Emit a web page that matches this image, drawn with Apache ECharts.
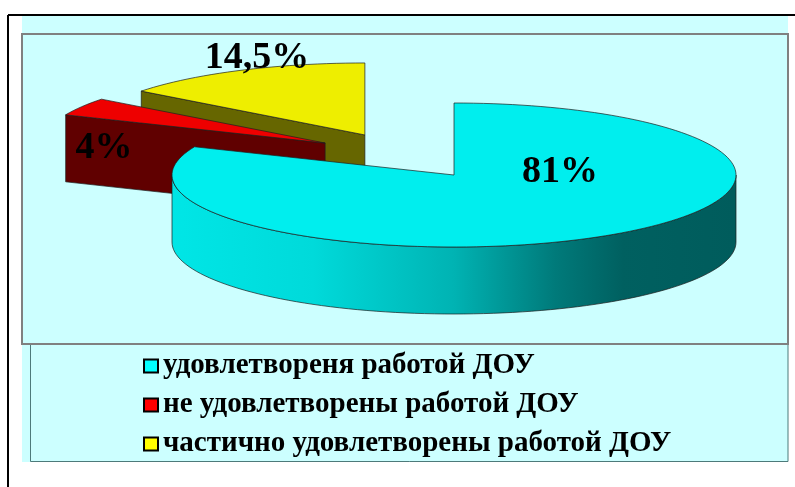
<!DOCTYPE html>
<html>
<head>
<meta charset="utf-8">
<script src="https://cdn.jsdelivr.net/npm/echarts@6/dist/echarts.min.js"></script>
<style>
html, body { margin: 0; padding: 0; background: #fff; }
#main { width: 795px; height: 487px; }
</style>
</head>
<body>
<div id="main"></div>
<script>
// data
var categories = ['удовлетвореня работой ДОУ', 'не удовлетворены работой ДОУ', 'частично удовлетворены работой ДОУ'];
var values = [81, 4, 14.5];

// look of the 3d pie
var pie = { cx: 454, cy: 175, rx: 282, ry: 72, depth: 67 };
var legendColors = ['#00ffff', '#ff0000', '#ffff00'];
var sliceStyle = [
    { top: '#00eeee', side: null, explode: [0, 0], label: [0.376, -0.04], z: 4 },
    { top: '#ee0000', side: '#600000', explode: [-0.457, -0.444], label: [-0.784, 0.07], z: 3 },
    { top: '#eeee00', side: '#666600', explode: [-0.316, -0.556], label: [-0.383, -1.07], z: 2 }
];
var edge = { stroke: '#1e1e1e', lineWidth: 0.7 };

function sum(a, b) { return a + b; }

function fmt(v) {
    return String(v).replace('.', ',') + '%';
}

// points on the rim, angles in degrees clockwise from 12 o'clock
function arcPts(ox, oy, a0, a1, dy) {
    var pts = [], n = Math.max(2, Math.ceil((a1 - a0) / 2));
    for (var k = 0; k <= n; k++) {
        var a = (a0 + (a1 - a0) * k / n) * Math.PI / 180;
        pts.push([ox + pie.rx * Math.sin(a), oy - pie.ry * Math.cos(a) + dy]);
    }
    return pts;
}

function makeRender(i) {
    return function (params, api) {
        var total = values.reduce(sum, 0);
        var before = values.slice(0, i).reduce(sum, 0);
        var a0 = before / total * 360;
        var a1 = (before + api.value(0)) / total * 360;
        var st = sliceStyle[i];
        var ox = pie.cx + st.explode[0] * pie.rx;
        var oy = pie.cy + st.explode[1] * pie.ry;
        var d = pie.depth;
        var children = [];

        var sideFill = st.side || new echarts.graphic.LinearGradient(pie.cx - pie.rx, 0, pie.cx + pie.rx, 0, [
            { offset: 0, color: '#00e6e6' },
            { offset: 0.25, color: '#00dada' },
            { offset: 0.5, color: '#00b3b3' },
            { offset: 0.68, color: '#007a7a' },
            { offset: 0.8, color: '#006060' },
            { offset: 1, color: '#005c5c' }
        ], true);

        function radial(a) {
            var p = arcPts(ox, oy, a, a, 0)[0];
            return {
                type: 'polygon',
                shape: { points: [[ox, oy], p, [p[0], p[1] + d], [ox, oy + d]] },
                style: { fill: sideFill, stroke: edge.stroke, lineWidth: edge.lineWidth }
            };
        }
        // cut faces that look to the front
        if (Math.sin(a0 * Math.PI / 180) < -0.01) children.push(radial(a0));
        if (Math.sin(a1 * Math.PI / 180) > 0.01) children.push(radial(a1));

        // front part of the rim
        var s0 = Math.max(a0, 90), s1 = Math.min(a1, 270);
        if (s1 > s0) {
            var up = arcPts(ox, oy, s0, s1, 0);
            var down = arcPts(ox, oy, s0, s1, d).reverse();
            children.push({
                type: 'polygon',
                shape: { points: up.concat(down) },
                style: { fill: sideFill, stroke: edge.stroke, lineWidth: edge.lineWidth }
            });
        }

        // top face
        children.push({
            type: 'polygon',
            shape: { points: [[ox, oy]].concat(arcPts(ox, oy, a0, a1, 0)) },
            style: { fill: st.top, stroke: edge.stroke, lineWidth: edge.lineWidth }
        });

        children.push({
            type: 'text',
            z2: 10,
            style: {
                text: fmt(api.value(0)),
                x: ox + st.label[0] * pie.rx,
                y: oy + st.label[1] * pie.ry,
                font: 'bold 38px "Liberation Serif"',
                fill: '#000',
                align: 'center',
                verticalAlign: 'middle'
            }
        });

        return { type: 'group', children: children };
    };
}

var myChart = echarts.init(document.getElementById('main'), null, { renderer: 'canvas' });

var option = {
    animation: false,
    graphic: [
        { type: 'rect', z: 0, shape: { x: 22, y: 16, width: 766, height: 446 }, style: { fill: '#ccffff' } },
        { type: 'rect', z: 0, shape: { x: 30.5, y: 344.5, width: 757.5, height: 117 }, style: { fill: 'none', stroke: '#4d7a7a', lineWidth: 1 } },
        { type: 'rect', z: 0, shape: { x: 22, y: 34, width: 766, height: 310 }, style: { fill: 'none', stroke: '#808080', lineWidth: 2 } },
        { type: 'line', z: 0, shape: { x1: 8, y1: 15, x2: 795, y2: 15 }, style: { stroke: '#000', lineWidth: 2 } },
        { type: 'line', z: 0, shape: { x1: 8, y1: 15, x2: 8, y2: 487 }, style: { stroke: '#000', lineWidth: 2 } }
    ],
    legend: {
        orient: 'vertical',
        left: 143,
        top: 351,
        padding: 0,
        itemWidth: 14,
        itemHeight: 13,
        itemGap: 9,
        icon: 'rect',
        selectedMode: false,
        textStyle: {
            fontFamily: 'Liberation Serif',
            fontWeight: 'bold',
            fontSize: 29,
            lineHeight: 30,
            color: '#000'
        },
        data: categories.map(function (name, i) {
            return { name: name, itemStyle: { color: legendColors[i], borderColor: '#000', borderWidth: 2 } };
        })
    },
    series: categories.map(function (name, i) {
        return {
            type: 'custom',
            name: name,
            coordinateSystem: 'none',
            z: sliceStyle[i].z,
            silent: true,
            itemStyle: { color: legendColors[i] },
            renderItem: makeRender(i),
            data: [[values[i]]]
        };
    })
};

myChart.setOption(option);
</script>
</body>
</html>
